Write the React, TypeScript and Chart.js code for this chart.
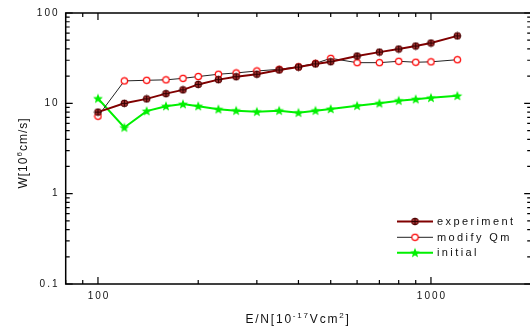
import React, { useEffect, useRef } from 'react';
import { Chart, registerables } from 'chart.js';

Chart.register(...registerables);

const energies = [100, 120, 140, 160, 180, 200, 230, 260, 300, 350, 400, 450, 500, 600, 700, 800, 900, 1000, 1200];
const experiment = [8.0, 10.0, 11.2, 12.8, 14.1, 16.2, 18.3, 19.7, 21.0, 23.4, 25.2, 27.3, 28.9, 33.4, 36.9, 39.9, 43.1, 46.5, 55.8];
const modifyQm = [7.2, 17.7, 18.0, 18.2, 18.9, 19.8, 21.0, 21.7, 22.8, 23.8, 25.4, 27.7, 31.5, 28.2, 28.2, 29.2, 28.5, 28.8, 30.4];
const initial = [11.3, 5.4, 8.2, 9.3, 9.8, 9.3, 8.6, 8.3, 8.07, 8.3, 7.87, 8.3, 8.65, 9.4, 10.0, 10.7, 11.1, 11.5, 12.1];
const seriesNames = ['experiment', 'modify Qm', 'initial'];

const xTickValues = [100, 1000];
const xTickLabels = ['100', '1000'];
const yTickValues = [0.1, 1, 10, 100];
const yTickLabels = ['0.1', '1', '10', '100'];
const xMin = 80;
const xMax = 2000;
const yMin = 0.1;
const yMax = 100;

const FONT = '"Liberation Sans", Arial, sans-serif';

function makeCanvas(w: number, h: number) {
  const c = document.createElement('canvas');
  c.width = w;
  c.height = h;
  return c;
}

function expMarker() {
  const c = makeCanvas(9, 9);
  const g = c.getContext('2d')!;
  g.beginPath();
  g.arc(4.5, 4.5, 3.4, 0, Math.PI * 2);
  g.fillStyle = '#a03030';
  g.fill();
  g.lineWidth = 1;
  g.strokeStyle = '#500000';
  g.stroke();
  g.beginPath();
  g.moveTo(1.1, 4.5);
  g.lineTo(7.9, 4.5);
  g.moveTo(4.5, 1.1);
  g.lineTo(4.5, 7.9);
  g.strokeStyle = '#300000';
  g.lineWidth = 1;
  g.stroke();
  return c;
}

function circleMarker() {
  const c = makeCanvas(9, 9);
  const g = c.getContext('2d')!;
  g.beginPath();
  g.arc(4.5, 4.5, 3.2, 0, Math.PI * 2);
  g.fillStyle = '#ffffff';
  g.fill();
  g.lineWidth = 1.2;
  g.strokeStyle = '#ff0000';
  g.stroke();
  return c;
}

function starMarker() {
  const c = makeCanvas(12, 12);
  const g = c.getContext('2d')!;
  g.beginPath();
  for (let i = 0; i < 10; i++) {
    const r = i % 2 === 0 ? 5.2 : 2.3;
    const a = -Math.PI / 2 + (i * Math.PI) / 5;
    const px = 6 + r * Math.cos(a);
    const py = 6.3 + r * Math.sin(a);
    if (i === 0) g.moveTo(px, py);
    else g.lineTo(px, py);
  }
  g.closePath();
  g.fillStyle = '#00f000';
  g.fill();
  return c;
}

type Part = { t: string; sup?: boolean };

function partsWidth(ctx: CanvasRenderingContext2D, parts: Part[], size: number, supSize: number, spacing: number) {
  let w = 0;
  for (const p of parts) {
    ctx.font = `${p.sup ? supSize : size}px ${FONT}`;
    ctx.letterSpacing = `${spacing}px`;
    w += ctx.measureText(p.t).width;
  }
  return w;
}

function drawParts(ctx: CanvasRenderingContext2D, parts: Part[], x: number, y: number, size: number, supSize: number, spacing: number) {
  let cx = x;
  ctx.textBaseline = 'alphabetic';
  ctx.textAlign = 'left';
  for (const p of parts) {
    ctx.font = `${p.sup ? supSize : size}px ${FONT}`;
    ctx.letterSpacing = `${spacing}px`;
    ctx.fillText(p.t, cx, p.sup ? y - size * 0.45 : y);
    cx += ctx.measureText(p.t).width;
  }
}

const xTitleParts: Part[] = [{ t: 'E/N[10' }, { t: '-17', sup: true }, { t: 'Vcm' }, { t: '2', sup: true }, { t: ']' }];
const yTitleParts: Part[] = [{ t: 'W[10' }, { t: '6', sup: true }, { t: 'cm/s]' }];

const framePlugin = {
  id: 'framePlugin',
  afterDraw(chart: any) {
    const ctx: CanvasRenderingContext2D = chart.ctx;
    const { left, right, top, bottom } = chart.chartArea;
    const xs = chart.scales.x;
    const ys = chart.scales.y;
    ctx.save();
    ctx.strokeStyle = '#000';
    ctx.lineWidth = 1.5;
    ctx.strokeRect(left, top, right - left, bottom - top);

    ctx.lineWidth = 1.2;
    ctx.beginPath();
    for (let d = 1; d <= 3; d++) {
      for (let m = 1; m <= 9; m++) {
        const v = m * Math.pow(10, d);
        if (v < xMin || v > xMax) continue;
        const px = xs.getPixelForValue(v);
        const len = m === 1 ? 7 : 4;
        ctx.moveTo(px, bottom);
        ctx.lineTo(px, bottom - len);
        ctx.moveTo(px, top);
        ctx.lineTo(px, top + len);
      }
    }
    for (let d = -1; d <= 2; d++) {
      for (let m = 1; m <= 9; m++) {
        const v = m * Math.pow(10, d);
        if (v < yMin - 1e-9 || v > yMax + 1e-9) continue;
        const py = ys.getPixelForValue(v);
        const len = m === 1 ? 7 : 4;
        ctx.moveTo(left, py);
        ctx.lineTo(left + len, py);
        ctx.moveTo(right, py);
        ctx.lineTo(right - len, py);
      }
    }
    ctx.stroke();

    ctx.fillStyle = '#111';
    ctx.font = `10px ${FONT}`;
    ctx.letterSpacing = '2px';
    ctx.textAlign = 'right';
    ctx.textBaseline = 'middle';
    yTickValues.forEach((v, i) => {
      ctx.fillText(yTickLabels[i], 59.5, ys.getPixelForValue(v));
    });
    ctx.textAlign = 'center';
    ctx.textBaseline = 'top';
    xTickValues.forEach((v, i) => {
      ctx.fillText(xTickLabels[i], xs.getPixelForValue(v) + 1, 291);
    });

    const xw = partsWidth(ctx, xTitleParts, 12, 8, 1.8);
    drawParts(ctx, xTitleParts, 298 - xw / 2, 323, 12, 8, 1.8);

    ctx.save();
    ctx.translate(27, 153);
    ctx.rotate(-Math.PI / 2);
    const yw = partsWidth(ctx, yTitleParts, 12, 8, 1);
    drawParts(ctx, yTitleParts, -yw / 2, 0, 12, 8, 1);
    ctx.restore();

    const rows = [221.5, 237.3, 252.8];
    chart.data.datasets.forEach((ds: any, i: number) => {
      const y = rows[i];
      ctx.beginPath();
      ctx.strokeStyle = ds.borderColor;
      ctx.lineWidth = ds.borderWidth;
      ctx.moveTo(397, y);
      ctx.lineTo(433, y);
      ctx.stroke();
      const img = ds.pointStyle as HTMLCanvasElement;
      ctx.drawImage(img, 415 - img.width / 2, y - img.height / 2);
      ctx.fillStyle = '#111';
      ctx.font = `11px ${FONT}`;
      ctx.letterSpacing = '2.4px';
      ctx.textAlign = 'left';
      ctx.textBaseline = 'middle';
      ctx.fillText(seriesNames[i], 437, y + 0.5);
    });
    ctx.restore();
  },
};

export default function App() {
  const ref = useRef<HTMLCanvasElement | null>(null);
  useEffect(() => {
    if (!ref.current) return;
    const toPts = (arr: number[]) => energies.map((e, i) => ({ x: e, y: arr[i] }));
    const chart = new Chart(ref.current, {
      type: 'line',
      data: {
        datasets: [
          {
            label: seriesNames[0],
            data: toPts(experiment),
            borderColor: '#800000',
            borderWidth: 2,
            pointStyle: expMarker() as any,
            pointRadius: 4,
          },
          {
            label: seriesNames[1],
            data: toPts(modifyQm),
            borderColor: '#222222',
            borderWidth: 1,
            pointStyle: circleMarker() as any,
            pointRadius: 4,
          },
          {
            label: seriesNames[2],
            data: toPts(initial),
            borderColor: '#00f000',
            borderWidth: 2,
            pointStyle: starMarker() as any,
            pointRadius: 5,
          },
        ],
      },
      options: {
        animation: false,
        responsive: false,
        devicePixelRatio: 1,
        layout: { padding: { left: 65.7, right: 540 - 531.2, top: 13, bottom: 45 } },
        scales: {
          x: { type: 'logarithmic', min: xMin, max: xMax, display: false },
          y: { type: 'logarithmic', min: yMin, max: yMax, display: false },
        },
        plugins: { legend: { display: false }, tooltip: { enabled: false } },
        elements: { line: { tension: 0 } },
      },
      plugins: [framePlugin],
    });
    return () => chart.destroy();
  }, []);
  return (
    <div style={{ position: 'fixed', left: 0, top: 0, width: 530, height: 329, overflow: 'hidden', background: '#fff' }}>
      <canvas ref={ref} width={540} height={329} style={{ display: 'block', width: 540, height: 329 }} />
    </div>
  );
}
